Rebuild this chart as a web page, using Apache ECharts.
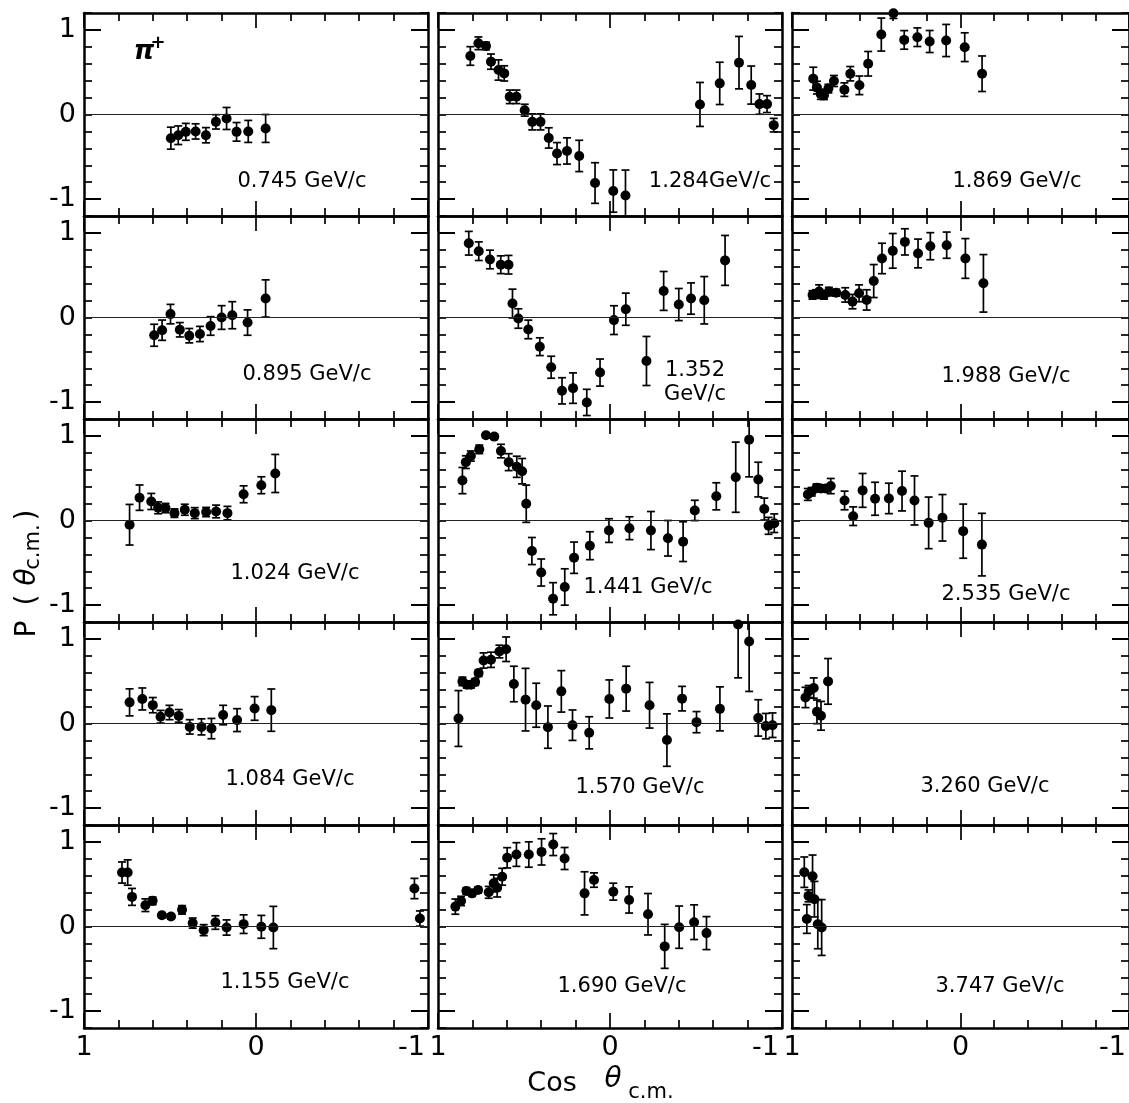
<!DOCTYPE html>
<html>
<head>
<meta charset="utf-8">
<title>pi+ p polarization</title>
<script src="https://cdn.jsdelivr.net/npm/echarts@6.0.0/dist/echarts.min.js"></script>
<style>
html, body { margin: 0; padding: 0; background: #fff; }
#main { width: 1129px; height: 1103px; }
</style>
</head>
<body>
<div id="main"></div>
<script>
// each point: [cos theta c.m., P, error]
var p0745 = [[0.495,-0.28,0.13],[0.452,-0.245,0.11],[0.408,-0.205,0.10],[0.351,-0.2,0.09],[0.291,-0.245,0.09],[0.233,-0.087,0.085],[0.171,-0.047,0.13],[0.113,-0.205,0.11],[0.045,-0.2,0.13],[-0.056,-0.165,0.165]];
var p0895 = [[0.592,-0.21,0.13],[0.546,-0.15,0.12],[0.497,0.04,0.115],[0.443,-0.145,0.085],[0.388,-0.215,0.085],[0.326,-0.195,0.09],[0.264,-0.1,0.11],[0.2,0,0.14],[0.138,0.027,0.16],[0.049,-0.06,0.15],[-0.056,0.225,0.22]];
var p1024 = [[0.735,-0.05,0.24],[0.677,0.27,0.15],[0.609,0.225,0.095],[0.569,0.15,0.07],[0.526,0.147,0.055],[0.474,0.087,0.05],[0.414,0.127,0.065],[0.356,0.087,0.065],[0.29,0.1,0.055],[0.232,0.107,0.075],[0.166,0.087,0.08],[0.072,0.31,0.1],[-0.031,0.417,0.1],[-0.112,0.556,0.225]];
var p1084 = [[0.735,0.25,0.16],[0.661,0.29,0.13],[0.6,0.217,0.09],[0.555,0.08,0.075],[0.503,0.13,0.085],[0.449,0.09,0.075],[0.385,-0.04,0.085],[0.317,-0.04,0.095],[0.259,-0.06,0.12],[0.191,0.1,0.115],[0.11,0.04,0.135],[0.008,0.178,0.14],[-0.089,0.158,0.25]];
var p1155 = [[0.779,0.638,0.125],[0.746,0.638,0.15],[0.721,0.35,0.1],[0.643,0.252,0.075],[0.601,0.303,0.045],[0.547,0.134,0.03],[0.494,0.118,0.03],[0.43,0.197,0.05],[0.368,0.04,0.06],[0.304,-0.043,0.065],[0.236,0.047,0.08],[0.171,-0.012,0.09],[0.072,0.028,0.11],[-0.031,-0.004,0.135],[-0.101,-0.012,0.25],[-0.921,0.449,0.12],[-0.953,0.094,0.09]];
var p1284 = [[0.812,0.692,0.11],[0.765,0.842,0.075],[0.721,0.81,0.045],[0.692,0.625,0.09],[0.648,0.526,0.12],[0.615,0.486,0.09],[0.583,0.209,0.08],[0.544,0.209,0.08],[0.496,0.051,0.07],[0.452,-0.087,0.095],[0.404,-0.087,0.095],[0.356,-0.277,0.12],[0.308,-0.462,0.13],[0.25,-0.431,0.155],[0.179,-0.49,0.185],[0.087,-0.81,0.24],[-0.019,-0.905,0.25],[-0.09,-0.957,0.3],[-0.523,0.119,0.26],[-0.638,0.368,0.25],[-0.75,0.613,0.31],[-0.821,0.348,0.225],[-0.869,0.123,0.12],[-0.913,0.123,0.1],[-0.952,-0.126,0.08]];
var p1352 = [[0.821,0.878,0.14],[0.763,0.784,0.11],[0.698,0.686,0.11],[0.635,0.624,0.105],[0.59,0.624,0.11],[0.567,0.165,0.17],[0.533,-0.012,0.115],[0.475,-0.141,0.11],[0.408,-0.345,0.105],[0.342,-0.588,0.13],[0.279,-0.867,0.155],[0.215,-0.835,0.18],[0.135,-1.004,0.155],[0.058,-0.651,0.16],[-0.023,-0.031,0.17],[-0.092,0.098,0.19],[-0.212,-0.514,0.29],[-0.312,0.314,0.23],[-0.4,0.153,0.19],[-0.471,0.224,0.185],[-0.548,0.204,0.28],[-0.669,0.675,0.295]];
var p1441 = [[0.858,0.472,0.155],[0.838,0.69,0.075],[0.809,0.762,0.06],[0.76,0.841,0.05],[0.721,1.008,0.03],[0.673,0.992,0.03],[0.634,0.821,0.08],[0.589,0.69,0.1],[0.542,0.635,0.125],[0.511,0.583,0.15],[0.487,0.198,0.22],[0.454,-0.361,0.16],[0.4,-0.615,0.16],[0.331,-0.925,0.19],[0.263,-0.786,0.215],[0.209,-0.44,0.185],[0.117,-0.298,0.165],[0.006,-0.119,0.14],[-0.113,-0.091,0.135],[-0.238,-0.119,0.225],[-0.337,-0.21,0.21],[-0.425,-0.25,0.235],[-0.493,0.119,0.12],[-0.618,0.286,0.16],[-0.731,0.512,0.415],[-0.809,0.956,0.44],[-0.862,0.484,0.205],[-0.897,0.135,0.13],[-0.922,-0.063,0.1],[-0.955,-0.032,0.11]];
var p1570 = [[0.881,0.059,0.33],[0.858,0.498,0.05],[0.832,0.459,0.04],[0.809,0.459,0.04],[0.784,0.49,0.04],[0.764,0.596,0.04],[0.735,0.745,0.09],[0.692,0.753,0.09],[0.643,0.851,0.075],[0.604,0.878,0.145],[0.559,0.467,0.21],[0.491,0.282,0.37],[0.429,0.216,0.26],[0.361,-0.043,0.25],[0.283,0.38,0.245],[0.218,-0.02,0.18],[0.121,-0.11,0.19],[0.004,0.29,0.225],[-0.094,0.412,0.265],[-0.23,0.216,0.27],[-0.331,-0.196,0.31],[-0.419,0.294,0.145],[-0.503,0.016,0.125],[-0.639,0.173,0.26],[-0.745,1.17,0.63],[-0.809,0.969,0.59],[-0.862,0.066,0.215],[-0.906,-0.031,0.15],[-0.945,-0.02,0.145]];
var p1690 = [[0.899,0.235,0.09],[0.866,0.302,0.055],[0.835,0.42,0.04],[0.802,0.392,0.035],[0.767,0.431,0.035],[0.705,0.404,0.07],[0.676,0.51,0.1],[0.656,0.459,0.11],[0.627,0.588,0.1],[0.598,0.812,0.12],[0.544,0.851,0.14],[0.472,0.851,0.15],[0.398,0.882,0.155],[0.33,0.969,0.13],[0.264,0.804,0.13],[0.148,0.392,0.255],[0.093,0.549,0.085],[-0.019,0.412,0.1],[-0.111,0.314,0.155],[-0.221,0.145,0.245],[-0.318,-0.235,0.26],[-0.402,-0.008,0.25],[-0.489,0.051,0.205],[-0.561,-0.078,0.195]];
var p1869 = [[0.874,0.424,0.135],[0.852,0.318,0.075],[0.829,0.239,0.06],[0.81,0.227,0.05],[0.784,0.306,0.05],[0.751,0.396,0.065],[0.689,0.294,0.08],[0.654,0.482,0.085],[0.6,0.345,0.11],[0.548,0.6,0.145],[0.47,0.945,0.195],[0.398,1.196,0.06],[0.334,0.882,0.11],[0.256,0.914,0.11],[0.183,0.863,0.13],[0.085,0.875,0.19],[-0.025,0.796,0.17],[-0.128,0.482,0.21]];
var p1988 = [[0.878,0.267,0.05],[0.858,0.278,0.05],[0.839,0.306,0.08],[0.81,0.267,0.05],[0.781,0.306,0.05],[0.738,0.294,0.04],[0.684,0.267,0.085],[0.641,0.188,0.085],[0.602,0.286,0.1],[0.557,0.208,0.12],[0.515,0.431,0.195],[0.466,0.698,0.18],[0.402,0.788,0.205],[0.33,0.894,0.155],[0.252,0.757,0.17],[0.179,0.843,0.16],[0.082,0.855,0.155],[-0.029,0.698,0.235],[-0.136,0.404,0.34]];
var p2535 = [[0.906,0.308,0.07],[0.883,0.34,0.05],[0.854,0.387,0.045],[0.828,0.379,0.04],[0.799,0.379,0.04],[0.77,0.407,0.09],[0.688,0.237,0.11],[0.637,0.051,0.11],[0.581,0.356,0.2],[0.507,0.257,0.195],[0.425,0.261,0.18],[0.347,0.348,0.235],[0.273,0.237,0.29],[0.189,-0.028,0.305],[0.107,0.032,0.275],[-0.016,-0.126,0.32],[-0.127,-0.285,0.37]];
var p3260 = [[0.92,0.308,0.12],[0.901,0.379,0.07],[0.871,0.419,0.12],[0.852,0.138,0.14],[0.828,0.091,0.17],[0.786,0.498,0.27]];
var p3747 = [[0.927,0.642,0.18],[0.912,0.089,0.17],[0.902,0.362,0.07],[0.878,0.595,0.25],[0.867,0.323,0.21],[0.847,0.027,0.29],[0.824,-0.012,0.33]];

var panelData = [p0745, p0895, p1024, p1084, p1155, p1284, p1352, p1441, p1570, p1690, p1869, p1988, p2535, p3260, p3747];
var panelNames = ['0.745 GeV/c', '0.895 GeV/c', '1.024 GeV/c', '1.084 GeV/c', '1.155 GeV/c',
    '1.284GeV/c', '1.352\nGeV/c', '1.441 GeV/c', '1.570 GeV/c', '1.690 GeV/c',
    '1.869 GeV/c', '1.988 GeV/c', '2.535 GeV/c', '3.260 GeV/c', '3.747 GeV/c'];
var yLabelValues = [-1, 0, 1];
var yMajorTicks = [-1, 1];

// layout
var colLeft = [84, 438, 792];
var colWidth = [344, 344, 342];
var rowTop = [13, 216, 419, 622, 825];
var rowHeight = 203;
var labelPos = [[302,182],[307,375],[295,574],[290,780],[285,983],
    [710,182],[695,383],[648,588],[640,788],[622,987],
    [1017,182],[1006,377],[1006,595],[985,787],[1000,987]];

var FONT = '"DejaVu Sans", "Liberation Sans", sans-serif';
var black = '#000';

function drawErr(params, api) {
    var cs = params.coordSys;
    var x = api.value(0), y = api.value(1), e = api.value(2);
    var hi = api.coord([x, y + e]);
    var lo = api.coord([x, y - e]);
    var top = Math.max(hi[1], cs.y);
    var bot = Math.min(lo[1], cs.y + cs.height);
    var kids = [{type: 'line', shape: {x1: hi[0], y1: top, x2: hi[0], y2: bot}, style: {stroke: black, lineWidth: 1.7}}];
    if (hi[1] >= cs.y) {
        kids.push({type: 'line', shape: {x1: hi[0] - 4, y1: hi[1], x2: hi[0] + 4, y2: hi[1]}, style: {stroke: black, lineWidth: 1.7}});
    }
    if (lo[1] <= cs.y + cs.height) {
        kids.push({type: 'line', shape: {x1: lo[0] - 4, y1: lo[1], x2: lo[0] + 4, y2: lo[1]}, style: {stroke: black, lineWidth: 1.7}});
    }
    return {type: 'group', children: kids};
}

function xLabel(v) {
    if (v === 0) return '0';
    return v > 0 ? '{l|1}' : '{r|-1}';
}

var grids = [], xAxes = [], yAxes = [], series = [], graphics = [];

panelData.forEach(function (pts, i) {
    var c = Math.floor(i / 5), r = i % 5;
    grids.push({left: colLeft[c], top: rowTop[r], width: colWidth[c], height: rowHeight});

    ['bottom', 'top'].forEach(function (pos) {
        xAxes.push({
            gridIndex: i, type: 'value', position: pos,
            min: -1, max: 1, interval: 1, inverse: true,
            axisLine: {show: true, onZero: false, lineStyle: {color: black, width: 2.5}},
            axisTick: {show: true, inside: true, length: 15, lineStyle: {color: black, width: 1.7}},
            minorTick: {show: true, splitNumber: 5, length: 8, lineStyle: {color: black, width: 1.7}},
            splitLine: {show: false},
            minorSplitLine: {show: false},
            axisLabel: {
                show: pos === 'bottom' && r === 4,
                margin: 6, color: black, fontSize: 27, fontFamily: FONT,
                showMinLabel: true, showMaxLabel: true,
                alignMinLabel: 'right', alignMaxLabel: 'center',
                formatter: xLabel,
                rich: {
                    l: {fontSize: 27, fontFamily: FONT, color: black, padding: [0, 0, 0, 0]},
                    r: {fontSize: 27, fontFamily: FONT, color: black, padding: [0, 3, 0, 0]}
                }
            }
        });
    });

    ['left', 'right'].forEach(function (pos) {
        yAxes.push({
            gridIndex: i, type: 'value', position: pos,
            min: -1.2, max: 1.2, interval: 0.2,
            axisLine: {show: true, onZero: false, lineStyle: {color: black, width: 2.5}},
            axisTick: {show: true, inside: true, length: 8, lineStyle: {color: black, width: 1.7}},
            axisLabel: {show: false},
            splitLine: {show: false}
        });
    });
    ['left', 'right'].forEach(function (pos) {
        yAxes.push({
            gridIndex: i, type: 'value', position: pos,
            min: -1.2, max: 1.2, interval: 0.2,
            axisLine: {show: false, onZero: false},
            axisTick: {show: true, inside: true, length: 17, customValues: yMajorTicks, lineStyle: {color: black, width: 2}},
            axisLabel: {
                show: pos === 'left' && c === 0,
                customValues: yLabelValues,
                margin: 8, color: black, fontSize: 27, fontFamily: FONT
            },
            splitLine: {show: false}
        });
    });

    series.push({
        type: 'custom',
        xAxisIndex: 2 * i, yAxisIndex: 4 * i,
        renderItem: drawErr,
        encode: {x: 0, y: 1},
        data: pts,
        silent: true,
        z: 3
    });
    series.push({
        type: 'scatter',
        xAxisIndex: 2 * i, yAxisIndex: 4 * i,
        symbol: 'circle', symbolSize: 10,
        itemStyle: {color: black, opacity: 1},
        clip: false,
        data: pts.map(function (p) { return [p[0], p[1]]; }),
        silent: true,
        z: 4,
        markLine: {
            silent: true, symbol: ['none', 'none'],
            label: {show: false},
            lineStyle: {color: '#222', width: 1, type: 'solid'},
            data: [{yAxis: 0}]
        }
    });

    graphics.push({
        type: 'text',
        x: labelPos[i][0], y: labelPos[i][1],
        style: {
            text: panelNames[i], fill: black,
            font: '21px ' + FONT,
            textAlign: 'center', textVerticalAlign: 'middle',
            align: 'center', verticalAlign: 'middle',
            lineHeight: 24
        }
    });
});

function txt(s, x, y, font) {
    return {type: 'text', x: x, y: y, style: {text: s, fill: black, font: font, textAlign: 'center', textVerticalAlign: 'middle', align: 'center', verticalAlign: 'middle'}};
}

// pi+ tag
graphics.push(txt('π', 144, 52, 'italic bold 26px ' + FONT));
graphics.push(txt('+', 158, 43, 'bold 18px ' + FONT));

// x title
graphics.push(txt('Cos', 552, 1084, '27px ' + FONT));
graphics.push(txt('θ', 613, 1080, 'italic 28px ' + FONT));
graphics.push(txt('c.m.', 651, 1093, '21px ' + FONT));

// y title, rotated
graphics.push({
    type: 'group', x: 28, y: 572, rotation: Math.PI / 2,
    children: [
        txt('P', -57, 0, '28px ' + FONT),
        txt('(', -28, 0, '28px ' + FONT),
        txt('θ', -5, 0, 'italic 28px ' + FONT),
        txt('c.m.', 25, 6, '21px ' + FONT),
        txt(')', 57, 0, '28px ' + FONT)
    ]
});

var chart = echarts.init(document.getElementById('main'));
chart.setOption({
    animation: false,
    backgroundColor: '#fff',
    grid: grids,
    xAxis: xAxes,
    yAxis: yAxes,
    series: series,
    graphic: graphics
});
</script>
</body>
</html>
